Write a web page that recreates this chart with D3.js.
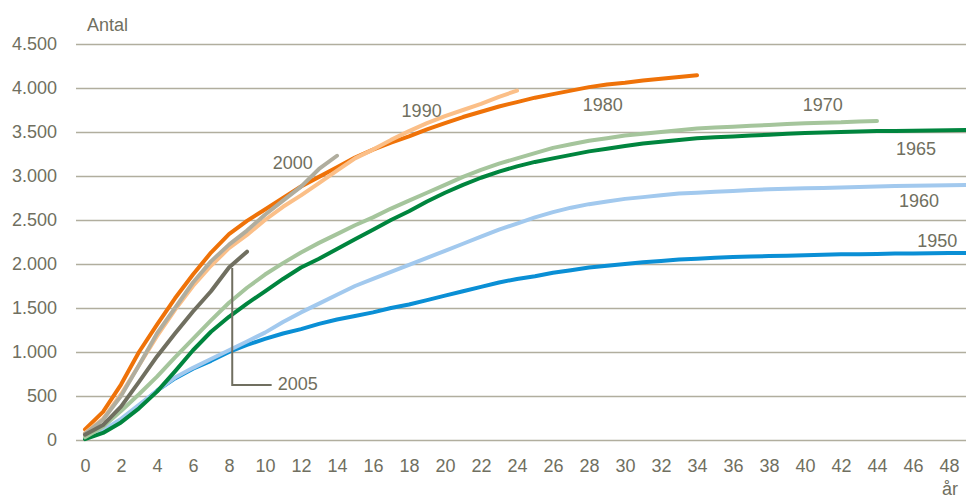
<!DOCTYPE html>
<html>
<head>
<meta charset="utf-8">
<script src="https://cdn.jsdelivr.net/npm/d3@7"></script>
<style>
  body { margin: 0; background: #fff; }
  text { font-family: "Liberation Sans", Arial, sans-serif; fill: #706f60; }
</style>
</head>
<body>
<script>
// years since start (x categories)
const years = d3.range(0, 50);
const xTicks = d3.range(0, 49, 2);
const yTicks = d3.range(0, 4501, 500);

// cumulative count per cohort
const s1950 = [20, 100, 220, 390, 560, 700, 810, 900, 1000, 1080, 1150, 1210, 1260, 1320, 1370, 1410, 1450, 1500, 1540, 1590,
  1640, 1690, 1740, 1790, 1830, 1860, 1900, 1930, 1960, 1980, 2000, 2020, 2035, 2050, 2060, 2070, 2080, 2085, 2090, 2095,
  2100, 2105, 2110, 2112, 2115, 2118, 2120, 2122, 2124, 2126];
const s1960 = [20, 110, 240, 400, 560, 710, 820, 920, 1020, 1120, 1220, 1340, 1450, 1550, 1650, 1750, 1830, 1910, 1990, 2070,
  2150, 2230, 2310, 2390, 2460, 2530, 2590, 2640, 2680, 2710, 2740, 2760, 2780, 2800, 2810, 2820, 2830, 2840, 2850, 2855,
  2860, 2865, 2870, 2875, 2880, 2885, 2890, 2893, 2896, 2898];
const s1965 = [10, 80, 200, 360, 550, 780, 1020, 1230, 1400, 1550, 1690, 1830, 1960, 2060, 2170, 2280, 2390, 2500, 2600, 2710,
  2810, 2900, 2980, 3050, 3110, 3160, 3200, 3240, 3280, 3310, 3340, 3370, 3390, 3410, 3430, 3440, 3450, 3460, 3470, 3480,
  3490, 3495, 3500, 3505, 3510, 3512, 3515, 3518, 3521, 3524];
const s1970 = [30, 150, 330, 520, 720, 940, 1150, 1360, 1560, 1730, 1880, 2010, 2130, 2240, 2340, 2440, 2530, 2630, 2720, 2810,
  2900, 2990, 3070, 3140, 3200, 3260, 3320, 3360, 3400, 3430, 3460, 3480, 3500, 3520, 3540, 3550, 3560, 3570, 3580, 3590,
  3600, 3605, 3610, 3620, 3625];
const s1980 = [120, 320, 630, 1000, 1310, 1610, 1880, 2130, 2340, 2490, 2620, 2750, 2880, 2990, 3100, 3210, 3300, 3380, 3450, 3530,
  3600, 3670, 3730, 3790, 3840, 3890, 3930, 3970, 4010, 4040, 4060, 4085, 4105, 4125, 4145];
const s1990 = [80, 240, 520, 850, 1180, 1480, 1750, 1980, 2180, 2330, 2500, 2650, 2780, 2920, 3060, 3200, 3300, 3410, 3510, 3600,
  3680, 3750, 3820, 3900, 3970];
const s2000 = [70, 230, 500, 850, 1210, 1500, 1790, 2030, 2220, 2380, 2560, 2720, 2880, 3080, 3230];
const s2005 = [60, 170, 380, 660, 950, 1210, 1460, 1690, 1960, 2140];

const seriesNames = ["1950", "1960", "1965", "1970", "1980", "1990", "2000", "2005"];
const seriesValues = [s1950, s1960, s1965, s1970, s1980, s1990, s2000, s2005];
const seriesColors = ["#0a8fd5", "#a2c9ee", "#00853e", "#a5c59c", "#ef7208", "#fbbf88", "#b0ad9e", "#706f60"];

// label anchors in data space (year, value)
const labelPos = [[46.24, 2265], [45.22, 2719], [45.06, 3307], [39.87, 3807], [27.65, 3807], [17.59, 3750], [10.43, 3148], [10.71, 640]];

const W = 966, H = 497;
const svg = d3.select("body").append("svg").attr("width", W).attr("height", H);

const x = d3.scaleLinear().domain([-0.5, 49.5]).range([76, 976]);
const y = d3.scaleLinear().domain([0, 4500]).range([440, 44]);

const da = d3.formatLocale({decimal: ",", thousands: ".", grouping: [3], currency: ["", " kr."]});
const fmt = da.format(",d");

// y axis with gridlines
const yAxis = svg.append("g")
    .attr("transform", "translate(76,0)")
    .call(d3.axisLeft(y).tickValues(yTicks).tickFormat(fmt).tickSizeInner(-900).tickSizeOuter(0).tickPadding(19));
yAxis.select(".domain").remove();
yAxis.selectAll("line").attr("stroke", "#b1ae9e").attr("stroke-width", 1.3);
yAxis.selectAll("text").attr("font-size", 18).style("font-family", "Liberation Sans, Arial, sans-serif");

const xAxis = svg.append("g")
    .attr("transform", "translate(0,440)")
    .call(d3.axisBottom(x).tickValues(xTicks).tickSize(0).tickPadding(19));
xAxis.select(".domain").remove();
xAxis.selectAll("text").attr("font-size", 18).style("font-family", "Liberation Sans, Arial, sans-serif");

svg.append("text").attr("x", 87).attr("y", 30.5).attr("font-size", 18).text("Antal");
svg.append("text").attr("x", 950).attr("y", 494.5).attr("font-size", 18).attr("text-anchor", "middle").text("år");

const line = d3.line().x((d, i) => x(years[i])).y(d => y(d));

svg.append("g").selectAll("path")
  .data(seriesValues)
  .join("path")
    .attr("d", d => line(d))
    .attr("fill", "none")
    .attr("stroke", (d, i) => seriesColors[i])
    .attr("stroke-width", 4)
    .attr("stroke-linejoin", "round")
    .attr("stroke-linecap", "round");

// leader for 2005
svg.append("path")
  .attr("d", d3.line()([[x(8.18), y(1955)], [x(8.18), y(625)], [x(10.37), y(625)]]))
  .attr("fill", "none").attr("stroke", "#706f60").attr("stroke-width", 2);

svg.append("g").selectAll("text")
  .data(seriesNames)
  .join("text")
    .attr("x", (d, i) => x(labelPos[i][0]))
    .attr("y", (d, i) => y(labelPos[i][1]) + 6.5)
    .attr("font-size", 18)
    .text(d => d);
</script>
</body>
</html>
